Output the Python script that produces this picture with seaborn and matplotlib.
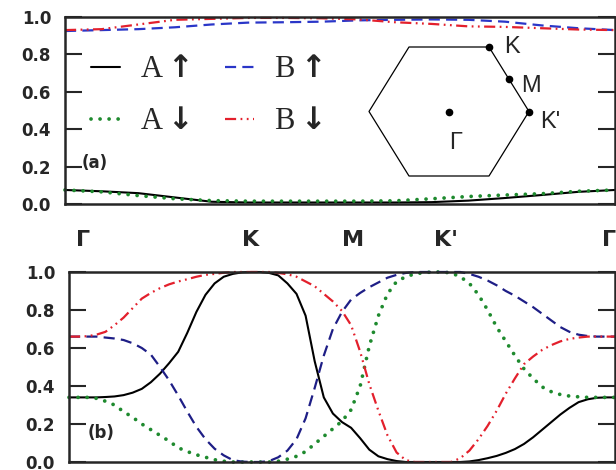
import numpy as np
import pandas as pd
import matplotlib
matplotlib.use("Agg")
import matplotlib.pyplot as plt
import seaborn as sns

# ---------------- data ----------------
# path coordinate: Γ=0, K=1, M=1.5, K'=2, Γ=3
x_a = np.round(np.arange(0, 3.001, 0.2), 2)
x_b = np.round(np.arange(0, 3.001, 0.05), 2)

# panel (a)
a_up_a = [0.075, 0.068, 0.058, 0.035, 0.012, 0.008, 0.008, 0.008, 0.008, 0.008, 0.01, 0.018, 0.032, 0.048, 0.065, 0.075]
a_dn_a = [0.075, 0.065, 0.045, 0.028, 0.018, 0.015, 0.015, 0.015, 0.015, 0.017, 0.028, 0.04, 0.048, 0.055, 0.068, 0.075]
b_up_a = [0.925, 0.93, 0.935, 0.945, 0.96, 0.97, 0.972, 0.975, 0.982, 0.985, 0.987, 0.985, 0.975, 0.955, 0.94, 0.93]
b_dn_a = [0.93, 0.935, 0.96, 0.985, 0.99, 0.995, 0.995, 0.993, 0.987, 0.972, 0.963, 0.95, 0.947, 0.94, 0.933, 0.93]

# panel (b)
a_up_b = [0.34, 0.34, 0.34, 0.34, 0.342, 0.345, 0.352, 0.365, 0.385, 0.42,
          0.465, 0.52, 0.58, 0.68, 0.79, 0.88, 0.94, 0.975, 0.99, 0.998,
          1.0, 1.0, 0.995, 0.982, 0.94, 0.885, 0.77, 0.53, 0.34, 0.255,
          0.21, 0.18, 0.125, 0.065, 0.03, 0.015, 0.005, 0.0, 0.0, 0.0,
          0.0, 0.0, 0.0, 0.0, 0.003, 0.01, 0.02, 0.032, 0.048, 0.068,
          0.095, 0.13, 0.17, 0.21, 0.25, 0.285, 0.315, 0.33, 0.338, 0.34, 0.34]
a_dn_b = [0.34, 0.34, 0.34, 0.335, 0.32, 0.30, 0.265, 0.235, 0.20, 0.17,
          0.14, 0.11, 0.075, 0.055, 0.038, 0.025, 0.012, 0.004, 0.0, 0.0,
          0.0, 0.0, 0.0, 0.004, 0.015, 0.03, 0.055, 0.095, 0.135, 0.175,
          0.215, 0.275, 0.40, 0.61, 0.77, 0.885, 0.95, 0.975, 0.99, 0.997,
          1.0, 1.0, 0.995, 0.975, 0.94, 0.88, 0.80, 0.71, 0.635, 0.56,
          0.49, 0.44, 0.395, 0.37, 0.355, 0.347, 0.343, 0.34, 0.34, 0.34, 0.34]
b_up_b = [0.66, 0.66, 0.66, 0.66, 0.655, 0.65, 0.642, 0.625, 0.60, 0.565,
          0.50, 0.43, 0.35, 0.265, 0.185, 0.12, 0.07, 0.035, 0.01, 0.002,
          0.0, 0.0, 0.005, 0.025, 0.06, 0.12, 0.23, 0.39, 0.56, 0.70,
          0.79, 0.855, 0.89, 0.92, 0.945, 0.97, 0.985, 0.995, 1.0, 1.0,
          1.0, 1.0, 1.0, 1.0, 0.99, 0.975, 0.955, 0.93, 0.90, 0.875,
          0.845, 0.815, 0.78, 0.745, 0.71, 0.685, 0.67, 0.663, 0.66, 0.66, 0.66]
b_dn_b = [0.66, 0.66, 0.662, 0.67, 0.685, 0.72, 0.76, 0.81, 0.86, 0.89,
          0.915, 0.935, 0.95, 0.962, 0.975, 0.985, 0.99, 0.996, 1.0, 1.0,
          1.0, 1.0, 1.0, 0.995, 0.988, 0.975, 0.95, 0.925, 0.885, 0.845,
          0.795, 0.72, 0.58, 0.41, 0.27, 0.14, 0.05, 0.01, 0.0, 0.0,
          0.0, 0.0, 0.0, 0.02, 0.06, 0.12, 0.19, 0.27, 0.36, 0.44,
          0.515, 0.555, 0.59, 0.615, 0.635, 0.648, 0.655, 0.66, 0.66, 0.66, 0.66]

series_keys = ["Aup", "Adn", "Bup", "Bdn"]
series_labels = [r"A$\mathbf{\uparrow}$", r"A$\mathbf{\downarrow}$",
                 r"B$\mathbf{\uparrow}$", r"B$\mathbf{\downarrow}$"]
path_labels = ["Γ", "K", "M", "K'", "Γ"]
path_label_pos = [0.08, 1.0, 1.56, 2.07, 2.97]
y_ticks = [0.0, 0.2, 0.4, 0.6, 0.8, 1.0]
bz_labels = ["K", "M", "K'", "Γ"]

# ---------------- style ----------------
sns.set_style("ticks")
plt.rcParams["font.family"] = ["DejaVu Sans"]
plt.rcParams["mathtext.fontset"] = "dejavusans"

BLACK = "#000000"
GREEN = "#1e8a2e"
BLUE_A = "#2a36c8"
BLUE_B = "#1e1e86"
RED = "#e3202c"

styles = {
    "Aup": dict(color=BLACK, linestyle="-", lw=1.5),
    "Adn": dict(color=GREEN, linestyle=(0, (0.01, 2.4)), lw=2.7, dash_capstyle="round"),
    "Bup": dict(color=None, linestyle=(0, (5.0, 2.8)), lw=1.6),
    "Bdn": dict(color=RED, linestyle=(0, (5.0, 2.0, 0.8, 2.0, 0.8, 2.0)), lw=1.6),
}

fig = plt.figure(figsize=(6.16, 4.70), dpi=100)
W, H = 616, 470


def px_axes(x0, y0, x1, y1):
    return fig.add_axes([x0 / W, 1 - y1 / H, (x1 - x0) / W, (y1 - y0) / H])


ax_a = px_axes(65, 17, 615, 204)
ax_b = px_axes(69, 272, 615, 462)

panel_data = {
    ax_a: (x_a, [a_up_a, a_dn_a, b_up_a, b_dn_a], BLUE_A),
    ax_b: (x_b, [a_up_b, a_dn_b, b_up_b, b_dn_b], BLUE_B),
}

for ax, (xs, ys, blue) in panel_data.items():
    for key, lab, y in zip(series_keys, series_labels, ys):
        st = dict(styles[key])
        if st["color"] is None:
            st["color"] = blue
        df = pd.DataFrame({"x": xs, "y": y})
        sns.lineplot(data=df, x="x", y="y", ax=ax, label=lab, clip_on=False, **st)
    ax.set_xlim(0, 3)
    ax.set_ylim(0, 1)
    ax.set_xlabel("")
    ax.set_ylabel("")
    ax.set_yticks(y_ticks)
    ax.set_yticklabels([f"{v:.1f}" for v in y_ticks], fontsize=12, fontweight="bold")
    ax.tick_params(axis="y", direction="in", length=12, width=1.5, left=True, right=True, pad=10)
    ax.set_xticks([])
    for sp in ax.spines.values():
        sp.set_linewidth(1.8)
        sp.set_visible(True)
    if ax.get_legend() is not None:
        ax.get_legend().remove()

# legend in panel (a): row 1 A↑ B↑, row 2 A↓ B↓
handles, labels = ax_a.get_legend_handles_labels()
leg = ax_a.legend(handles, labels, ncol=2,
                  loc="upper left", bbox_to_anchor=(0.025, 0.86), frameon=False,
                  prop={"family": ["Liberation Serif", "DejaVu Serif"], "size": 22},
                  handlelength=0.95, handletextpad=0.65, columnspacing=1.15,
                  labelspacing=0.75, borderaxespad=0)

# panel letters
ax_a.text(0.03, 0.22, "(a)", transform=ax_a.transAxes, fontsize=12, fontweight="bold", va="center", ha="left")
ax_b.text(0.035, 0.15, "(b)", transform=ax_b.transAxes, fontsize=12, fontweight="bold", va="center", ha="left")

# k-path labels above panel (b)
ax_b.xaxis.set_ticks_position("top")
ax_b.set_xticks(path_label_pos)
ax_b.set_xticklabels(path_labels, fontsize=16, fontweight="bold")
ax_b.tick_params(axis="x", top=True, bottom=False, length=0, pad=16)

# Brillouin-zone inset
ins = px_axes(369, 47, 529, 176)
ins.set_xlim(-1, 1)
ins.set_ylim(-np.sqrt(3) / 2, np.sqrt(3) / 2)
ins.axis("off")
ang = np.deg2rad(np.arange(0, 361, 60))
ins.plot(np.cos(ang), np.sin(ang), color="black", lw=0.9, clip_on=False)
pts_x = [0.5, 0.75, 1.0, 0.0]
pts_y = [np.sqrt(3) / 2, np.sqrt(3) / 4, 0.0, 0.0]
ins.plot(pts_x, pts_y, "o", color="black", ms=4.5, clip_on=False)
lab_pos = [(0.69, 0.86), (0.90, 0.34), (1.14, -0.14), (0.0, -0.42)]
for t, (lx, ly) in zip(bz_labels, lab_pos):
    ins.text(lx, ly, t, fontsize=17, family=["Liberation Sans", "DejaVu Sans"], ha="left", va="center",
             clip_on=False)

fig.savefig("out.png", dpi=100)
